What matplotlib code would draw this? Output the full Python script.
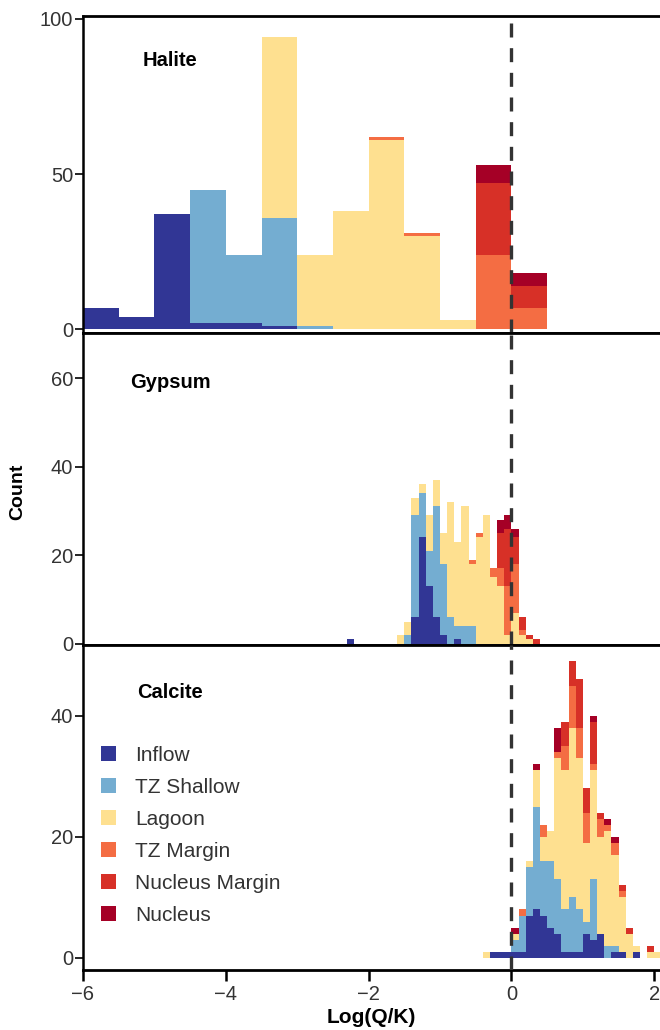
import numpy as np
import matplotlib
matplotlib.use("Agg")
import matplotlib.pyplot as plt
from matplotlib.patches import Patch

plt.rcParams['font.family'] = ['Liberation Sans', 'DejaVu Sans']

categories = ["Inflow", "TZ Shallow", "Lagoon", "TZ Margin", "Nucleus Margin", "Nucleus"]
colors = ["#313695", "#74add1", "#fee090", "#f46d43", "#d73027", "#a50026"]

# ---- Halite (bin width 0.5) ----
halite_bin_start = [-6.0, -5.5, -5.0, -4.5, -4.0, -3.5, -3.0, -2.5, -2.0, -1.5, -1.0, -0.5, 0.0]
halite_width = 0.5
halite_inflow = [7, 4, 37, 2, 2, 1, 0, 0, 0, 0, 0, 0, 0]
halite_tzs    = [0, 0, 0, 43, 22, 35, 1, 0, 0, 0, 0, 0, 0]
halite_lagoon = [0, 0, 0, 0, 0, 58, 23, 38, 61, 30, 3, 0, 0]
halite_tzm    = [0, 0, 0, 0, 0, 0, 0, 0, 1, 1, 0, 24, 7]
halite_nm     = [0, 0, 0, 0, 0, 0, 0, 0, 0, 0, 0, 23, 7]
halite_n      = [0, 0, 0, 0, 0, 0, 0, 0, 0, 0, 0, 6, 4]

# ---- Gypsum (bin width 0.1) ----
gypsum_bin_start = [-2.3, -2.2, -2.1, -2.0, -1.9, -1.8, -1.7, -1.6, -1.5, -1.4, -1.3, -1.2, -1.1,
                    -1.0, -0.9, -0.8, -0.7, -0.6, -0.5, -0.4, -0.3, -0.2, -0.1, 0.0, 0.1, 0.2, 0.3]
gypsum_width = 0.1
gypsum_inflow = [1, 0, 0, 0, 0, 0, 0, 0, 0, 6, 24, 13, 6, 2, 0, 1, 0, 0, 0, 0, 0, 0, 0, 0, 0, 0, 0]
gypsum_tzs    = [0, 0, 0, 0, 0, 0, 0, 0, 2, 23, 10, 8, 25, 16, 6, 3, 4, 4, 0, 0, 0, 0, 0, 0, 0, 0, 0]
gypsum_lagoon = [0, 0, 0, 0, 0, 0, 0, 2, 3, 4, 2, 8, 6, 7, 26, 19, 27, 14, 24, 29, 15, 13, 2, 7, 2, 1, 0]
gypsum_tzm    = [0, 0, 0, 0, 0, 0, 0, 0, 0, 0, 0, 0, 0, 0, 0, 0, 0, 1, 1, 0, 2, 4, 11, 11, 1, 0, 0]
gypsum_nm     = [0, 0, 0, 0, 0, 0, 0, 0, 0, 0, 0, 0, 0, 0, 0, 0, 0, 0, 0, 0, 0, 8, 13, 6, 3, 1, 1]
gypsum_n      = [0, 0, 0, 0, 0, 0, 0, 0, 0, 0, 0, 0, 0, 0, 0, 0, 0, 0, 0, 0, 0, 3, 3, 2, 0, 0, 0]

# ---- Calcite (bin width 0.1) ----
calcite_bin_start = [-0.4, -0.3, -0.2, -0.1, 0.0, 0.1, 0.2, 0.3, 0.4, 0.5, 0.6, 0.7, 0.8, 0.9,
                     1.0, 1.1, 1.2, 1.3, 1.4, 1.5, 1.6, 1.7, 1.8, 1.9, 2.0]
calcite_width = 0.1
calcite_inflow = [0, 1, 1, 1, 1, 1, 7, 8, 7, 5, 4, 1, 1, 1, 4, 3, 4, 0, 1, 1, 0, 1, 0, 0, 0]
calcite_tzs    = [0, 0, 0, 0, 2, 6, 8, 17, 9, 11, 9, 7, 9, 7, 2, 10, 0, 2, 1, 0, 0, 0, 0, 0, 0]
calcite_lagoon = [1, 0, 0, 0, 1, 0, 1, 6, 4, 5, 20, 23, 28, 25, 13, 18, 16, 19, 15, 9, 4, 1, 0, 1, 1]
calcite_tzm    = [0, 0, 0, 0, 0, 1, 0, 0, 2, 0, 1, 4, 7, 5, 5, 1, 3, 1, 2, 1, 0, 0, 0, 0, 0]
calcite_nm     = [0, 0, 0, 0, 0, 0, 0, 0, 0, 0, 0, 4, 4, 8, 4, 7, 1, 0, 0, 1, 1, 0, 0, 1, 0]
calcite_n      = [0, 0, 0, 0, 1, 0, 0, 1, 0, 0, 4, 0, 0, 0, 0, 1, 0, 1, 1, 0, 0, 0, 0, 0, 0]

panels = [
    ("Halite", halite_bin_start, halite_width,
     [halite_inflow, halite_tzs, halite_lagoon, halite_tzm, halite_nm, halite_n],
     (-1.2, 100.9), [0, 50, 100]),
    ("Gypsum", gypsum_bin_start, gypsum_width,
     [gypsum_inflow, gypsum_tzs, gypsum_lagoon, gypsum_tzm, gypsum_nm, gypsum_n],
     (-0.3, 70.2), [0, 20, 40, 60]),
    ("Calcite", calcite_bin_start, calcite_width,
     [calcite_inflow, calcite_tzs, calcite_lagoon, calcite_tzm, calcite_nm, calcite_n],
     (-2.0, 51.7), [0, 20, 40]),
]

fig = plt.figure(figsize=(6.6, 10.3), dpi=100)
W, H = 660.0, 1030.0
left = 83 / W
width = 1.0 - left
tops = [16, 333, 645]
bottoms = [333, 645, 970]
title_y = [60, 383, 692]

text_color = "#333333"
tick_fs = 14.5
axes = []
for i, (name, starts, bw, series, ylim, yticks) in enumerate(panels):
    b = 1 - bottoms[i] / H
    h = (bottoms[i] - tops[i]) / H
    ax = fig.add_axes([left, b, width, h])
    axes.append(ax)
    starts = np.asarray(starts)
    bottom = np.zeros(len(starts))
    for vals, col in zip(series, colors):
        vals = np.asarray(vals, dtype=float)
        ax.bar(starts, vals, width=bw, bottom=bottom, align='edge', color=col,
               edgecolor='none', linewidth=0)
        bottom += vals
    ax.axvline(0, color="#333333", linestyle=(0, (4.2, 3.2)), linewidth=2.4, zorder=5)
    ax.set_xlim(-6, 2.08)
    ax.set_ylim(*ylim)
    ax.set_yticks(yticks)
    ax.tick_params(axis='y', direction='out', length=6, width=1.2, colors='black',
                   labelcolor=text_color, labelsize=tick_fs, pad=1)
    for side in ['top', 'bottom']:
        ax.spines[side].set_linewidth(2.0)
        ax.spines[side].set_color('black')
    ax.spines['left'].set_linewidth(1.8)
    ax.spines['right'].set_visible(False)
    ty = (bottoms[i] - title_y[i]) / (bottoms[i] - tops[i])
    ax.text(0.151, ty, name, transform=ax.transAxes, ha='center', va='center',
            fontsize=14.5, fontweight='bold', color='black')
    if i < 2:
        ax.tick_params(axis='x', bottom=False, labelbottom=False)
    else:
        ax.set_xticks([-6, -4, -2, 0, 2])
        ax.set_xticklabels(["\u22126", "\u22124", "\u22122", "0", "2"])
        ax.tick_params(axis='x', direction='out', length=8, width=1.8, colors='black',
                       labelcolor=text_color, labelsize=tick_fs, pad=3)
        ax.set_xlabel("Log(Q/K)", fontsize=15, fontweight='bold', labelpad=3)

# legend in the calcite panel
handles = [Patch(facecolor=c, edgecolor='none') for c in colors]
leg = axes[2].legend(handles, categories, loc='upper left',
                     bbox_to_anchor=((101 - 83) / (W - 83), (970 - 746) / (970 - 645)),
                     frameon=False, fontsize=15, handlelength=0.72, handleheight=0.72,
                     handletextpad=0.92, labelspacing=0.62, borderaxespad=0,
                     borderpad=0)
for t in leg.get_texts():
    t.set_color(text_color)

fig.text(18 / W, 1 - 492 / H, "Count", rotation=90, ha='center', va='center',
         fontsize=14, fontweight='bold', color='black')

fig.savefig("out.png", dpi=100)
